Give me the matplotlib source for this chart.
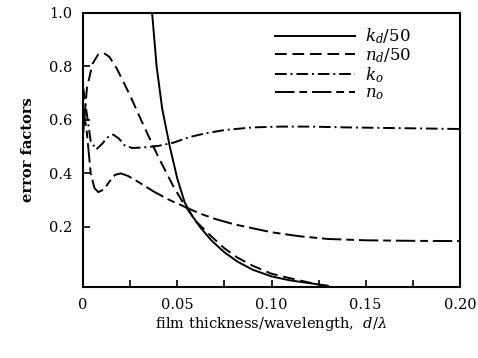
import matplotlib
matplotlib.use("Agg")
import matplotlib.pyplot as plt

# values
kd_x = [0.0366, 0.039, 0.042, 0.046, 0.050, 0.054, 0.058, 0.062, 0.068, 0.075,
        0.082, 0.090, 0.100, 0.110, 0.120, 0.130]
kd_y = [1.0, 0.80, 0.64, 0.50, 0.38, 0.29, 0.24, 0.20, 0.15, 0.105,
        0.07, 0.04, 0.015, 0.0, -0.01, -0.02]

nd_x = [0.0, 0.002, 0.005, 0.008, 0.011, 0.014, 0.018, 0.025, 0.032, 0.040,
        0.048, 0.054, 0.060, 0.068, 0.075, 0.082, 0.090, 0.100, 0.110, 0.120, 0.128]
nd_y = [0.55, 0.72, 0.81, 0.845, 0.85, 0.835, 0.79, 0.69, 0.58, 0.46,
        0.35, 0.28, 0.22, 0.165, 0.12, 0.085, 0.055, 0.025, 0.008, -0.008, -0.02]

ko_x = [0.0, 0.002, 0.004, 0.007, 0.010, 0.013, 0.016, 0.019, 0.022, 0.026,
        0.032, 0.040, 0.048, 0.056, 0.065, 0.075, 0.090, 0.105, 0.12, 0.14,
        0.16, 0.18, 0.20]
ko_y = [0.72, 0.62, 0.52, 0.49, 0.51, 0.535, 0.545, 0.53, 0.505, 0.495,
        0.497, 0.503, 0.515, 0.535, 0.55, 0.562, 0.572, 0.575, 0.575, 0.572,
        0.57, 0.568, 0.566]

no_x = [0.0, 0.002, 0.004, 0.006, 0.008, 0.011, 0.014, 0.017, 0.020, 0.024,
        0.030, 0.038, 0.046, 0.054, 0.062, 0.070, 0.080, 0.090, 0.100, 0.115,
        0.130, 0.150, 0.175, 0.200]
no_y = [0.65, 0.55, 0.40, 0.345, 0.33, 0.34, 0.37, 0.395, 0.40, 0.39,
        0.365, 0.33, 0.30, 0.275, 0.25, 0.23, 0.21, 0.195, 0.18, 0.165,
        0.155, 0.15, 0.148, 0.147]

x_ticks = [0, 0.05, 0.10, 0.15, 0.20]
x_labels = ["0", "0.05", "0.10", "0.15", "0.20"]
y_ticks = [0.2, 0.4, 0.6, 0.8, 1.0]
y_labels = ["0.2", "0.4", "0.6", "0.8", "1.0"]

plt.rcParams["font.family"] = ["DejaVu Serif"]
plt.rcParams["mathtext.fontset"] = "dejavuserif"

fig = plt.figure(figsize=(4.78, 3.58), dpi=100)
ax = fig.add_axes([0.174, 0.198, 0.788, 0.766])

lw = 1.4
ax.plot(kd_x, kd_y, color="black", lw=lw, ls="-", label=r"$k_d/50$")
ax.plot(nd_x, nd_y, color="black", lw=lw, ls=(0, (6, 3)), label=r"$n_d/50$")
ax.plot(ko_x, ko_y, color="black", lw=lw, ls=(0, (6, 2, 1, 2)), label=r"$k_o$")
ax.plot(no_x, no_y, color="black", lw=lw, ls=(0, (10, 2.5, 4, 2.5)), label=r"$n_o$")

ax.set_xlim(0, 0.2)
ax.set_ylim(-0.025, 1.0)
ax.set_xticks(x_ticks)
ax.set_xticklabels(x_labels)
ax.set_xticks([0.025, 0.075, 0.125, 0.175], minor=True)
ax.set_yticks(y_ticks)
ax.set_yticklabels(y_labels)
ax.tick_params(direction="in", length=5, width=1.2, labelsize=10.5, pad=8)
ax.tick_params(which="minor", direction="in", length=5, width=1.2)
for s in ax.spines.values():
    s.set_linewidth(1.5)

ax.set_xlabel(r"film thickness/wavelength,  $d/\lambda$", fontsize=10.5, labelpad=2)
ax.set_ylabel("error factors", fontsize=10.5, fontweight="bold", labelpad=10)

ax.legend(loc="upper left", bbox_to_anchor=(0.51, 0.95), frameon=False,
          fontsize=12, handlelength=4.8, labelspacing=0.0, handletextpad=0.6,
          borderpad=0, borderaxespad=0)

fig.savefig("out.png", dpi=100)
